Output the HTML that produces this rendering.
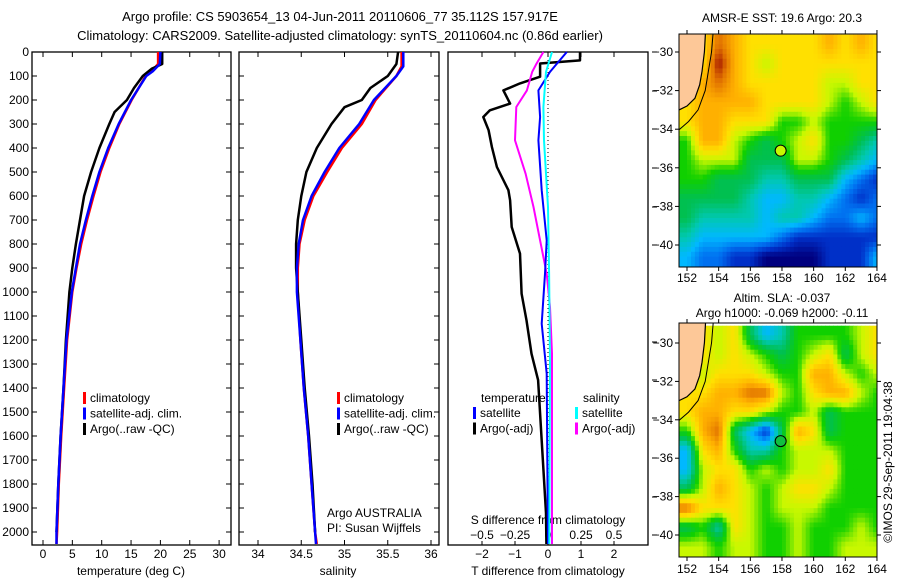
<!DOCTYPE html>
<html><head><meta charset="utf-8"><style>
html,body{margin:0;padding:0;background:#fff;}
svg{display:block;font-family:"Liberation Sans",sans-serif;}
text{font-size:12px;fill:#000;}
</style></head><body>
<svg id="fig" width="900" height="580" viewBox="0 0 900 580" xmlns="http://www.w3.org/2000/svg">
<text x="340" y="21" text-anchor="middle" style="font-size:13px">Argo profile: CS 5903654_13 04-Jun-2011 20110606_77 35.112S 157.917E</text>
<text x="340" y="40" text-anchor="middle" style="font-size:13px">Climatology: CARS2009. Satellite-adjusted climatology: synTS_20110604.nc (0.86d earlier)</text>
<g id="p1"></g>
<g id="p2"></g>
<g id="p3"></g>
<g id="m1"></g>
<g id="m2"></g>
<text x="782" y="22" text-anchor="middle">AMSR-E SST: 19.6 Argo: 20.3</text>
<text x="782" y="302" text-anchor="middle">Altim. SLA: -0.037</text>
<text x="782" y="317" text-anchor="middle">Argo h1000: -0.069 h2000: -0.11</text>
<text transform="translate(892,462) rotate(-90)" text-anchor="middle">©IMOS 29-Sep-2011 19:04:38</text>
</svg>
<script>
// ---- profile data ----
const tClimDepth=[0,50,80,100,200,300,400,500,600,700,800,900,1000,1200,1400,1600,1800,2000,2050];
const tClim=[19.6,19.6,18.5,17.5,15.1,13.0,11.3,9.8,8.6,7.5,6.5,5.7,5.0,4.1,3.6,3.1,2.7,2.4,2.3];
const tSat=[20.0,19.9,18.7,17.6,15.0,12.9,11.1,9.6,8.4,7.3,6.3,5.6,4.9,4.0,3.5,3.0,2.6,2.3,2.3];
const tArgoDepth=[0,50,70,100,150,200,250,300,400,500,600,700,800,900,1000,1200,1400,1600,1800,2000];
const tArgo=[20.3,20.3,18.5,17.0,15.5,14.3,12.2,11.3,9.6,8.2,7.0,6.3,5.6,5.0,4.5,3.9,3.5,3.0,2.6,2.3];
const sClimDepth=[0,60,100,200,300,400,500,600,700,800,900,1000,1200,1400,1600,1800,2000,2050];
const sClim=[35.66,35.66,35.6,35.36,35.2,34.97,34.8,34.64,34.54,34.48,34.46,34.46,34.49,34.53,34.58,34.62,34.66,34.68];
const sSat=[35.68,35.68,35.6,35.34,35.17,34.94,34.77,34.62,34.52,34.47,34.45,34.45,34.49,34.53,34.58,34.62,34.66,34.67];
const sArgoDepth=[0,50,100,150,200,230,300,400,500,600,700,800,900,1000,1200,1400,1600,1800,2000];
const sArgo=[35.62,35.6,35.5,35.3,35.2,35.0,34.85,34.68,34.56,34.5,34.46,34.44,34.44,34.46,34.5,34.54,34.59,34.63,34.66];
const dTDepth=[0,35,48,103,131,160,215,243,271,326,396,479,576,618,729,840,1007,1118,1257,1367,1921,2050];
const dTArgo=[0.97,0.97,-0.24,-0.24,-0.85,-1.35,-1.15,-1.76,-1.96,-1.8,-1.7,-1.55,-1.2,-1.15,-1.1,-0.85,-0.8,-0.65,-0.5,-0.3,-0.06,-0.05];
const dTSatDepth=[0,42,83,160,271,368,576,785,924,1132,1340,1700,2050];
const dTSat=[0.57,0.31,0.06,-0.29,-0.24,-0.29,-0.19,-0.04,-0.09,-0.19,-0.04,-0.02,0.0];
const dSArgoDepth=[0,48,83,160,229,368,507,646,785,924,1063,1257,2050];
const dSArgo=[-0.035,-0.086,-0.12,-0.16,-0.24,-0.25,-0.17,-0.11,-0.06,-0.01,0.015,0.03,0.03];
const dSSatDepth=[0,83,229,368,646,924,1300,2050];
const dSSat=[0.03,-0.015,-0.035,-0.03,0.0,0.008,0.015,0.01];
const depthTicks=[0,100,200,300,400,500,600,700,800,900,1000,1100,1200,1300,1400,1500,1600,1700,1800,1900,2000];
const tTicks=[0,5,10,15,20,25,30];
const sTicks=[34,34.5,35,35.5,36];
const sTickLabels=["34","34.5","35","35.5","36"];
const dTTicks=[-2,-1,0,1,2];
const dSTicks=[-0.5,-0.25,0,0.25,0.5];
const dSTickLabels=["-0.5","-0.25","0","0.25","0.5"];
// ---- map data (palette index per 1° cell, -1 = land), cell centres lon 152..164, lat -29.6..-40.6 ----
const sstGrid=[
[-1,-1,10,9,8,8,8,8,8,9,8,9,8],
[-1,-1,11,9,8,7,8,8,8,8,8,8,8],
[-1,9,10,9,8,8,8,8,8,7,7,8,8],
[-1,9,9,9,9,8,8,8,8,7,6,7,8],
[8,9,9,8,8,8,6,6,7,6,6,6,6],
[6,9,9,7,6,5,6,7,8,6,6,5,4],
[6,7,7,7,5,5,5,7,7,6,5,4,3],
[6,6,5,5,5,4,4,5,5,5,3,2,1],
[5,5,5,5,4,3,3,4,4,3,2,1,2],
[5,4,4,4,4,3,4,4,3,2,2,3,2],
[4,3,3,3,3,3,2,1,1,1,1,1,1],
[3,2,2,1,1,0,0,0,0,1,1,1,3]];
const slaGrid=[
[-1,-1,7,8,5,3,4,6,6,6,6,7,8],
[-1,-1,7,8,7,6,5,6,7,8,5,7,8],
[-1,7,8,8,8,7,6,6,9,9,7,6,7],
[-1,8,9,9,10,10,7,6,8,9,9,7,6],
[8,9,9,8,8,7,6,6,7,5,6,6,6],
[6,9,10,5,3,1,5,9,8,5,6,6,6],
[3,8,9,6,4,4,6,7,7,7,6,6,6],
[3,7,8,8,6,7,6,7,7,8,6,6,6],
[5,7,9,8,7,6,7,8,8,7,6,6,6],
[10,8,8,8,7,6,7,7,7,6,6,6,6],
[5,6,4,8,7,6,6,7,6,6,6,7,6],
[7,7,6,7,7,6,6,7,6,6,7,7,7]];
const lonTicks=[152,154,156,158,160,162,164];
const latTicks=[-30,-32,-34,-36,-38,-40];
const argoLon=157.917, argoLat=-35.112;

const NS="http://www.w3.org/2000/svg";
function mk(tag,attrs,parent){const e=document.createElementNS(NS,tag);for(const k in attrs)e.setAttribute(k,attrs[k]);parent.appendChild(e);return e;}
function txt(s,x,y,anchor,parent){const t=mk('text',{x:x,y:y,'text-anchor':anchor||'middle'},parent);t.textContent=s;return t;}

const Y0=52, PY=0.24, BOT=545;
const yD=d=>Y0+d*PY;

function frame(g,x0,x1,nameBase,leftLabels){
  const r=mk('rect',{x:x0,y:Y0,width:x1-x0,height:BOT-Y0,fill:'none',stroke:'#000','stroke-width':1.3},g);
  
  
  depthTicks.forEach(d=>{
    mk('line',{x1:x0,x2:x0+5,y1:yD(d),y2:yD(d),stroke:'#000'},g);
    mk('line',{x1:x1,x2:x1-5,y1:yD(d),y2:yD(d),stroke:'#000'},g);
    if(leftLabels){const t=txt(String(d),x0-3,yD(d)+4,'end',g);
      
      }
  });
}
function line(g,xs,ds,xf,color,w,name){
  const pts=xs.map((v,i)=>xf(v).toFixed(1)+','+yD(ds[i]).toFixed(1)).join(' ');
  const p=mk('polyline',{points:pts,fill:'none',stroke:color,'stroke-width':w,'stroke-linejoin':'round'},g);
  
  
}
function legend(g,x,y,items){
  items.forEach((it,i)=>{
    mk('rect',{x:x,y:y+i*15.5-10,width:3,height:12,fill:it[1]},g);
    const t=txt(it[0],x+7,y+i*15.5,'start',g);
    
    
  });
}

// Panel 1
const p1=document.getElementById('p1');
const xT=v=>43+v*5.87;
frame(p1,32,231,'temperature-panel',true);
tTicks.forEach(v=>{mk('line',{x1:xT(v),x2:xT(v),y1:BOT,y2:BOT-5,stroke:'#000'},p1);mk('line',{x1:xT(v),x2:xT(v),y1:Y0,y2:Y0+5,stroke:'#000'},p1);
  const t=txt(String(v),xT(v),558,'middle',p1);});
const xt1=txt('temperature (deg C)',131,575,'middle',p1);
line(p1,tClim,tClimDepth,xT,'#ff0000',2.5,'temperature-climatology-line');
line(p1,tArgo,tArgoDepth,xT,'#000000',2.5,'temperature-argo-line');
line(p1,tSat,tClimDepth,xT,'#0000ff',2.5,'temperature-satellite-line');
legend(p1,83,402,[['climatology','#ff0000'],['satellite-adj. clim.','#0000ff'],['Argo(..raw -QC)','#000000']]);

// Panel 2
const p2=document.getElementById('p2');
const xS=v=>258+(v-34)*86.5;
frame(p2,239,439,'salinity-panel',false);
sTicks.forEach((v,i)=>{mk('line',{x1:xS(v),x2:xS(v),y1:BOT,y2:BOT-5,stroke:'#000'},p2);mk('line',{x1:xS(v),x2:xS(v),y1:Y0,y2:Y0+5,stroke:'#000'},p2);
  const t=txt(sTickLabels[i],xS(v),558,'middle',p2);});
const xt2=txt('salinity',338,575,'middle',p2);
line(p2,sClim,sClimDepth,xS,'#ff0000',2.5,'salinity-climatology-line');
line(p2,sArgo,sArgoDepth,xS,'#000000',2.5,'salinity-argo-line');
line(p2,sSat,sClimDepth,xS,'#0000ff',2.5,'salinity-satellite-line');
legend(p2,337,402,[['climatology','#ff0000'],['satellite-adj. clim.','#0000ff'],['Argo(..raw -QC)','#000000']]);
const a1=txt('Argo AUSTRALIA',327,517,'start',p2);
const a2=txt('PI: Susan Wijffels',327,532,'start',p2);

// Panel 3
const p3=document.getElementById('p3');
const xdT=v=>548+v*33;
const xdS=v=>548+v*132;
mk('rect',{x:448,y:Y0,width:200,height:BOT-Y0,fill:'none',stroke:'#000','stroke-width':1.3},p3);
[52,91,129,168,207,245,342,380,418,458,497,535].forEach(y=>mk('line',{x1:652,x2:657,y1:y,y2:y,stroke:'#000'},p3));
mk('line',{x1:xdT(0),x2:xdT(0),y1:Y0,y2:BOT,stroke:'#000','stroke-dasharray':'1,3'},p3);
dTTicks.forEach(v=>{mk('line',{x1:xdT(v),x2:xdT(v),y1:BOT,y2:BOT-4,stroke:'#000'},p3);mk('line',{x1:xdT(v),x2:xdT(v),y1:Y0,y2:Y0+5,stroke:'#000'},p3);
  const t=txt(String(v).replace('-','−'),xdT(v),558,'middle',p3);});
dSTicks.forEach((v,i)=>{
  const t=txt(dSTickLabels[i].replace('-','−'),xdS(v),539,'middle',p3);});
const s3=txt('S difference from climatology',548,524,'middle',p3);
const t3=txt('T difference from climatology',548,575,'middle',p3);
line(p3,dTArgo,dTDepth,xdT,'#000000',2.5,'t-diff-argo-line');
line(p3,dSArgo,dSArgoDepth,xdS,'#ff00ff',2,'s-diff-argo-line');
line(p3,dTSat,dTSatDepth,xdT,'#0000ff',2,'t-diff-satellite-line');
line(p3,dSSat,dSSatDepth,xdS,'#00ffff',2,'s-diff-satellite-line');
const h1=txt('temperature',481,402,'start',p3);
const h2=txt('salinity',583,402,'start',p3);
legend(p3,473,417,[['satellite','#0000ff'],['Argo(-adj)','#000000']]);
legend(p3,575,417,[['satellite','#00ffff'],['Argo(-adj)','#ff00ff']]);

// Maps
const pal=[[0,0,127],[0,48,200],[0,112,240],[0,184,255],[0,200,176],[0,192,80],[16,208,0],[200,248,0],[255,224,0],[255,176,0],[224,112,0],[160,16,0]];
function palColor(v){
  v=Math.max(0,Math.min(pal.length-1,v));
  const i=Math.min(pal.length-2,Math.floor(v)),f=v-i;
  const c=pal[i].map((a,k)=>Math.round(a+(pal[i+1][k]-a)*f));
  return 'rgb('+c.join(',')+')';
}
function sample(grid,fr,fc){
  const R=grid.length,C=grid[0].length;
  const g=(r,c)=>{r=Math.max(0,Math.min(R-1,r));c=Math.max(0,Math.min(C-1,c));const v=grid[r][c];return v<0?8:v;};
  const r0=Math.floor(fr),c0=Math.floor(fc),a=fr-r0,b=fc-c0;
  return g(r0,c0)*(1-a)*(1-b)+g(r0,c0+1)*(1-a)*b+g(r0+1,c0)*a*(1-b)+g(r0+1,c0+1)*a*b;
}
function drawMap(g,grid,top,bottom,yLat30,yLat40,labelY,circleFill){
  const x0=679,x1=877;
  const xL=lon=>687+(lon-152)*15.83;
  const yL=lat=>yLat30+(-30-lat)*(yLat40-yLat30)/10;
  const cid='clip'+g.id;
  const cp=mk('clipPath',{id:cid},g);mk('rect',{x:x0,y:top,width:x1-x0,height:bottom-top},cp);
  const cg=mk('g',{'clip-path':'url(#'+cid+')'},g);
  const SUB=4, dLat=(yLat40-yLat30)/10;
  for(let r=0;r<grid.length*SUB;r++){
    for(let c=0;c<grid[0].length*SUB;c++){
      const lon=151.5+c/SUB, lat=-29.1-r/SUB;
      const fc=(lon+0.5/SUB)-152, fr=(-29.6)-(lat-0.5/SUB);
      const v=sample(grid,fr,fc);
      const cell=mk('rect',{x:xL(lon).toFixed(1),y:yL(lat).toFixed(1),width:(15.83/SUB+0.5).toFixed(2),height:(dLat/SUB+0.5).toFixed(2),fill:palColor(v)},cg);
      
      
    }
  }
  const land=[[151,-28.5],[153.2,-28.5],[153.1,-30],[152.95,-31],[152.8,-31.7],[152.5,-32.4],[152.0,-32.8],[151.5,-33.0],[151,-33.1]];
  const lp=mk('polygon',{points:land.map(p=>xL(p[0])+','+yL(p[1])).join(' '),fill:'#fdc898',stroke:'#000','stroke-width':1.2},cg);
  
  const cont=[[153.7,-28.5],[153.55,-30],[153.35,-31],[153.15,-32],[152.7,-33],[152.1,-33.6],[151.4,-34.1]];
  mk('polyline',{points:cont.map(p=>xL(p[0])+','+yL(p[1])).join(' '),fill:'none',stroke:'#000','stroke-width':1},cg);
  mk('rect',{x:x0,y:top,width:x1-x0,height:bottom-top,fill:'none',stroke:'#000'},g);
  lonTicks.forEach(l=>{mk('line',{x1:xL(l),x2:xL(l),y1:top,y2:top-4,stroke:'#000'},g);mk('line',{x1:xL(l),x2:xL(l),y1:bottom,y2:bottom+4,stroke:'#000'},g);
    const t=txt(String(l),xL(l),labelY,'middle',g);});
  latTicks.forEach(l=>{mk('line',{x1:x0,x2:x0-4,y1:yL(l),y2:yL(l),stroke:'#000'},g);mk('line',{x1:x1,x2:x1+4,y1:yL(l),y2:yL(l),stroke:'#000'},g);
    const t=txt(String(l).replace('-','−'),x0-6,yL(l)+4,'end',g);});
  const c=mk('circle',{cx:xL(argoLon),cy:yL(argoLat),r:5.5,fill:circleFill,stroke:'#000','stroke-width':1},g);
  
}
drawMap(document.getElementById('m1'),sstGrid,34,267,52,245,282,'#c8f800');
drawMap(document.getElementById('m2'),slaGrid,323,557,343,535,573,'#10c040');
</script>
</body></html>
